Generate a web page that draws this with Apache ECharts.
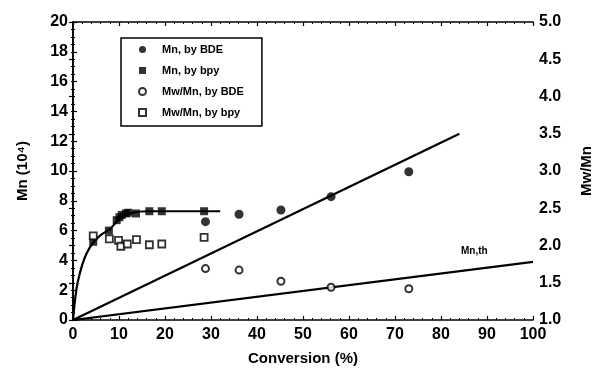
<!DOCTYPE html>
<html>
<head>
<meta charset="utf-8">
<script src="https://cdn.jsdelivr.net/npm/echarts@6/dist/echarts.min.js"></script>
<style>
  html, body { margin: 0; padding: 0; background: #fff; }
  #chart { width: 594px; height: 374px; }
</style>
</head>
<body>
<div id="chart"></div>
<script>
// Mn by BDE (filled circles), left axis
const mnBdeX = [28.8, 36.1, 45.2, 56.1, 73.0]
const mnBdeY = [6.6, 7.1, 7.38, 8.28, 9.95]

// Mn by bpy (filled squares), left axis
const mnBpyX = [4.4, 7.8, 9.5, 10.1, 10.6, 11.5, 12.0, 13.7, 16.6, 19.3, 28.5]
const mnBpyY = [5.25, 6.0, 6.7, 6.9, 7.05, 7.15, 7.2, 7.15, 7.3, 7.3, 7.3]

// Mw/Mn by BDE (open circles), right axis
const pdiBdeX = [28.8, 36.1, 45.2, 56.1, 73.0]
const pdiBdeY = [1.69, 1.67, 1.52, 1.44, 1.42]

// Mw/Mn by bpy (open squares), right axis
const pdiBpyX = [4.4, 7.9, 9.9, 10.4, 11.8, 13.8, 16.6, 19.3, 28.5]
const pdiBpyY = [2.13, 2.09, 2.07, 1.99, 2.02, 2.08, 2.01, 2.02, 2.11]

// fitted curve through bpy data
const fitX = [0, 0.5, 1, 2, 3, 4.4, 6, 8, 9.5, 11, 13, 16, 20, 32]
const fitY = [0, 1.5, 2.5, 3.7, 4.5, 5.2, 5.7, 6.1, 6.6, 7.0, 7.2, 7.3, 7.3, 7.3]

// straight lines
const bdeLineX = [0, 84]
const bdeLineY = [0, 12.5]
const thLineX = [0, 100]
const thLineY = [0, 3.9]

const zip = (xs, ys) => xs.map((x, i) => [x, ys[i]])

const font = 'Liberation Sans, Arial, sans-serif'
const axisLabel = { color: '#000', fontSize: 16, fontWeight: 'bold', fontFamily: font }
const axisLine = { show: true, lineStyle: { color: '#000', width: 1.6 } }
const axisTick = { show: true, inside: true, length: 4, lineStyle: { color: '#000', width: 1.2 } }
const minorTick = { show: true, splitNumber: 5, length: 2, lineStyle: { color: '#000', width: 1 } }

const chart = echarts.init(document.getElementById('chart'))

const option = {
  animation: false,
  backgroundColor: '#fff',
  grid: { left: 73, right: 61, top: 22, bottom: 54, containLabel: false, outerBoundsMode: 'none' },
  legend: {
    left: 121,
    top: 38,
    orient: 'vertical',
    itemWidth: 7,
    itemHeight: 7,
    itemGap: 8,
    padding: [5, 18, 7, 17],
    borderColor: '#000',
    borderWidth: 1.5,
    textStyle: { color: '#000', fontSize: 11, fontWeight: 'bold', fontFamily: font, lineHeight: 13, padding: [0, 0, 0, 11] },
    data: ['Mn, by BDE', 'Mn, by bpy', 'Mw/Mn, by BDE', 'Mw/Mn, by bpy']
  },
  xAxis: [
    {
      type: 'value',
      min: 0,
      max: 100,
      interval: 10,
      name: 'Conversion (%)',
      nameLocation: 'middle',
      nameGap: 31,
      nameTextStyle: { color: '#000', fontSize: 15, fontWeight: 'bold', fontFamily: font },
      axisLine,
      axisTick,
      minorTick,
      axisLabel: { ...axisLabel, margin: 7 },
      splitLine: { show: false }
    },
    {
      type: 'value',
      position: 'top',
      min: 0,
      max: 100,
      interval: 10,
      axisLine,
      axisTick,
      minorTick,
      axisLabel: { show: false },
      splitLine: { show: false }
    }
  ],
  yAxis: [
    {
      type: 'value',
      min: 0,
      max: 20,
      interval: 2,
      name: 'Mn (10⁴)',
      nameLocation: 'middle',
      nameGap: 43,
      nameRotate: 90,
      nameTextStyle: { color: '#000', fontSize: 15, fontWeight: 'bold', fontFamily: font },
      axisLine,
      axisTick,
      minorTick: { ...minorTick, splitNumber: 4 },
      axisLabel: { ...axisLabel, margin: 5 },
      splitLine: { show: false }
    },
    {
      type: 'value',
      position: 'right',
      min: 1,
      max: 5,
      interval: 0.5,
      name: 'Mw/Mn',
      nameLocation: 'middle',
      nameGap: 46,
      nameRotate: 90,
      nameTextStyle: { color: '#000', fontSize: 15, fontWeight: 'bold', fontFamily: font },
      axisLine,
      axisTick,
      minorTick: { ...minorTick, splitNumber: 5 },
      axisLabel: { ...axisLabel, margin: 6, formatter: (v) => v.toFixed(1) },
      splitLine: { show: false }
    }
  ],
  graphic: [
    {
      type: 'text',
      left: 461,
      top: 246,
      style: { text: 'Mn,th', fill: '#000', font: 'bold 10px ' + font }
    }
  ],
  series: [
    {
      name: 'fit',
      type: 'line',
      smooth: 0.3,
      symbol: 'none',
      lineStyle: { color: '#000', width: 2.2 },
      data: zip(fitX, fitY),
      z: 2
    },
    {
      name: 'bdeLine',
      type: 'line',
      symbol: 'none',
      lineStyle: { color: '#000', width: 2.2 },
      data: zip(bdeLineX, bdeLineY),
      z: 2
    },
    {
      name: 'thLine',
      type: 'line',
      symbol: 'none',
      lineStyle: { color: '#000', width: 2.2 },
      data: zip(thLineX, thLineY),
      z: 2
    },
    {
      name: 'Mn, by BDE',
      type: 'scatter',
      symbol: 'circle',
      symbolSize: 9,
      itemStyle: { color: '#000' },
      data: zip(mnBdeX, mnBdeY),
      z: 3
    },
    {
      name: 'Mn, by bpy',
      type: 'scatter',
      symbol: 'rect',
      symbolSize: 8,
      itemStyle: { color: '#000' },
      data: zip(mnBpyX, mnBpyY),
      z: 3
    },
    {
      name: 'Mw/Mn, by BDE',
      type: 'scatter',
      yAxisIndex: 1,
      symbol: 'circle',
      symbolSize: 7,
      itemStyle: { color: '#fff', borderColor: '#000', borderWidth: 2 },
      data: zip(pdiBdeX, pdiBdeY),
      z: 3
    },
    {
      name: 'Mw/Mn, by bpy',
      type: 'scatter',
      yAxisIndex: 1,
      symbol: 'rect',
      symbolSize: 7,
      itemStyle: { color: '#fff', borderColor: '#000', borderWidth: 1.8 },
      data: zip(pdiBpyX, pdiBpyY),
      z: 3
    }
  ]
}

chart.setOption(option)
</script>
</body>
</html>
